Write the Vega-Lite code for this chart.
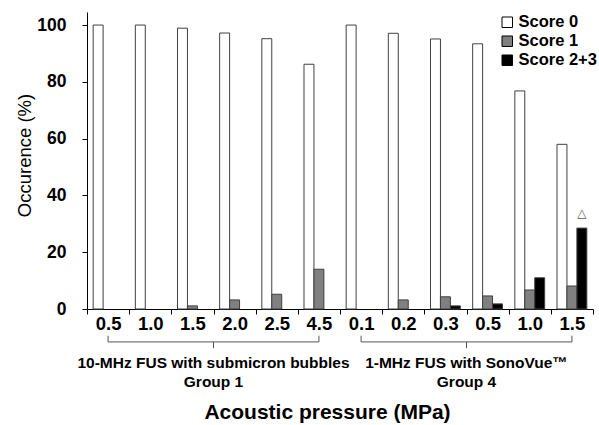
{
  "$schema": "https://vega.github.io/schema/vega-lite/v6.json",
  "width": 506,
  "height": 297,
  "autosize": {"type": "none"},
  "padding": {"left": 87, "top": 12, "right": 6, "bottom": 116},
  "config": {"view": {"stroke": null}, "font": "Liberation Sans"},
  "datasets": {
    "bars": [
      {"cat": "1|0.5", "score": "Score 0", "value": 100},
      {"cat": "1|0.5", "score": "Score 1", "value": 0},
      {"cat": "1|0.5", "score": "Score 2+3", "value": 0},
      {"cat": "1|1.0", "score": "Score 0", "value": 100},
      {"cat": "1|1.0", "score": "Score 1", "value": 0},
      {"cat": "1|1.0", "score": "Score 2+3", "value": 0},
      {"cat": "1|1.5", "score": "Score 0", "value": 98.9},
      {"cat": "1|1.5", "score": "Score 1", "value": 1.1},
      {"cat": "1|1.5", "score": "Score 2+3", "value": 0},
      {"cat": "1|2.0", "score": "Score 0", "value": 97.2},
      {"cat": "1|2.0", "score": "Score 1", "value": 3.2},
      {"cat": "1|2.0", "score": "Score 2+3", "value": 0},
      {"cat": "1|2.5", "score": "Score 0", "value": 95.2},
      {"cat": "1|2.5", "score": "Score 1", "value": 5.2},
      {"cat": "1|2.5", "score": "Score 2+3", "value": 0},
      {"cat": "1|4.5", "score": "Score 0", "value": 86.2},
      {"cat": "1|4.5", "score": "Score 1", "value": 14.0},
      {"cat": "1|4.5", "score": "Score 2+3", "value": 0},
      {"cat": "4|0.1", "score": "Score 0", "value": 100},
      {"cat": "4|0.1", "score": "Score 1", "value": 0},
      {"cat": "4|0.1", "score": "Score 2+3", "value": 0},
      {"cat": "4|0.2", "score": "Score 0", "value": 97.1},
      {"cat": "4|0.2", "score": "Score 1", "value": 3.2},
      {"cat": "4|0.2", "score": "Score 2+3", "value": 0},
      {"cat": "4|0.3", "score": "Score 0", "value": 95.1},
      {"cat": "4|0.3", "score": "Score 1", "value": 4.3},
      {"cat": "4|0.3", "score": "Score 2+3", "value": 1.1},
      {"cat": "4|0.5", "score": "Score 0", "value": 93.4},
      {"cat": "4|0.5", "score": "Score 1", "value": 4.6},
      {"cat": "4|0.5", "score": "Score 2+3", "value": 1.8},
      {"cat": "4|1.0", "score": "Score 0", "value": 76.8},
      {"cat": "4|1.0", "score": "Score 1", "value": 6.7},
      {"cat": "4|1.0", "score": "Score 2+3", "value": 11.0},
      {"cat": "4|1.5", "score": "Score 0", "value": 58.0},
      {"cat": "4|1.5", "score": "Score 1", "value": 8.1},
      {"cat": "4|1.5", "score": "Score 2+3", "value": 28.5}
    ],
    "marker": [{"cat": "4|1.5", "score": "Score 2+3", "value": 33.8, "t": "△"}],
    "braceH": [
      {"cat": "1|0.5", "b": "1|4.5", "value": -11.6},
      {"cat": "4|0.1", "b": "4|1.5", "value": -11.6}
    ],
    "braceEnds": [
      {"cat": "1|0.5", "value": -9.4, "y2": -11.6},
      {"cat": "1|4.5", "value": -9.4, "y2": -11.6},
      {"cat": "4|0.1", "value": -9.4, "y2": -11.6},
      {"cat": "4|1.5", "value": -9.4, "y2": -11.6}
    ],
    "braceMid": [
      {"cat": "1|1.5", "value": -11.6, "y2": -13.8},
      {"cat": "4|0.3", "value": -11.6, "y2": -13.8}
    ],
    "groupText": [
      {"cat": "1|1.5", "t": "10-MHz FUS with submicron bubbles", "value": -19.0},
      {"cat": "1|1.5", "t": "Group 1", "value": -25.7},
      {"cat": "4|0.3", "t": "1-MHz FUS with SonoVue™", "value": -19.0},
      {"cat": "4|0.3", "t": "Group 4", "value": -25.7}
    ]
  },
  "encoding": {
    "x": {
      "field": "cat", "type": "nominal",
      "scale": {"paddingInner": 0, "paddingOuter": 0},
      "axis": {
        "labelExpr": "split(datum.value,'|')[1]",
        "labelAngle": 0,
        "tickBand": "extent",
        "tickSize": 5,
        "tickColor": "black",
        "domainColor": "black",
        "labelFontSize": 18.5,
        "labelFontWeight": "bold",
        "labelColor": "black",
        "labelPadding": 0,
        "title": "Acoustic pressure (MPa)",
        "titleFontSize": 21,
        "titleFontWeight": "bold",
        "titleColor": "black",
        "titleX": 240,
        "titleY": 103,
        "titleAlign": "center",
        "titleBaseline": "middle"
      }
    },
    "y": {
      "field": "value", "type": "quantitative",
      "scale": {"domain": [0, 104.6], "nice": false},
      "axis": {
        "values": [0, 20, 40, 60, 80, 100],
        "title": "Occurence (%)",
        "grid": false,
        "domainColor": "black",
        "tickColor": "black",
        "tickSize": 5,
        "labelFontSize": 17.5,
        "labelFontWeight": "bold",
        "labelColor": "black",
        "labelPadding": 16,
        "titleFontSize": 18.5,
        "titleFontWeight": "normal",
        "titleColor": "black",
        "titleX": -63,
        "titleY": 143,
        "titleAngle": 270,
        "titleAlign": "center",
        "titleBaseline": "middle"
      }
    }
  },
  "layer": [
    {
      "data": {"name": "bars"},
      "mark": {"type": "bar", "stroke": "#404040", "strokeWidth": 1},
      "encoding": {
        "xOffset": {"field": "score", "type": "nominal", "scale": {"paddingInner": 0, "paddingOuter": 0.62}},
        "strokeOpacity": {"condition": {"test": "datum.value == 0", "value": 0}, "value": 1},
        "fill": {
          "field": "score", "type": "nominal",
          "scale": {"domain": ["Score 0", "Score 1", "Score 2+3"], "range": ["white", "#808080", "black"]},
          "legend": {
            "orient": "none",
            "legendX": 412,
            "legendY": 2,
            "title": null,
            "padding": 0,
            "labelFontSize": 16.5,
            "labelFontWeight": "bold",
            "labelColor": "black",
            "symbolType": "square",
            "symbolSize": 110,
            "symbolStrokeColor": "black",
            "symbolStrokeWidth": 1,
            "rowPadding": 2,
            "labelOffset": 3
          }
        }
      }
    },
    {
      "data": {"name": "marker"},
      "mark": {"type": "text", "font": "DejaVu Sans", "fontSize": 12, "color": "#555555"},
      "encoding": {
        "xOffset": {"field": "score", "type": "nominal"},
        "text": {"field": "t"}
      }
    },
    {
      "data": {"name": "braceH"},
      "mark": {"type": "rule", "color": "#555555", "strokeWidth": 1},
      "encoding": {
        "x2": {"field": "b"}
      }
    },
    {
      "data": {"name": "braceEnds"},
      "mark": {"type": "rule", "color": "#555555", "strokeWidth": 1},
      "encoding": {
        "y2": {"field": "y2"}
      }
    },
    {
      "data": {"name": "braceMid"},
      "mark": {"type": "rule", "color": "#555555", "strokeWidth": 1},
      "encoding": {
        "x": {"field": "cat", "type": "nominal", "bandPosition": 1},
        "y2": {"field": "y2"}
      }
    },
    {
      "data": {"name": "groupText"},
      "mark": {"type": "text", "fontSize": 15.5, "fontWeight": "bold", "color": "black", "baseline": "middle", "align": "center"},
      "encoding": {
        "x": {"field": "cat", "type": "nominal", "bandPosition": 1},
        "text": {"field": "t"}
      }
    }
  ]
}
